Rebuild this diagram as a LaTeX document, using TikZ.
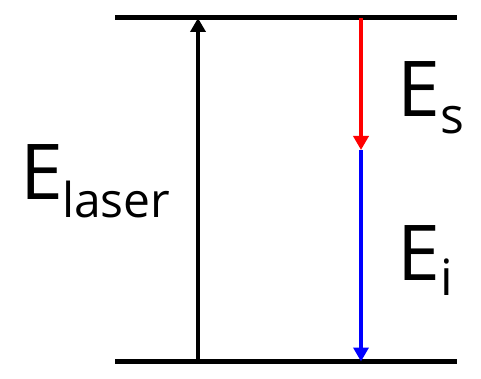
\documentclass[tikz,border=0pt]{standalone}
\usepackage{fontspec}
\setmainfont{Open Sans}
\usetikzlibrary{arrows.meta}

\begin{document}
\begin{tikzpicture}[x=1pt,y=-1pt,>={Triangle[width=15pt,length=14pt]},
  level/.style={line width=5pt},
  trans/.style={line width=4pt,->},
  lbl/.style={inner sep=0pt,anchor=base west,font=\fontsize{77}{77}\selectfont}]
\useasboundingbox (0,0) rectangle (481,379);
% energy levels
\coordinate (tl) at (115,18);
\coordinate (tr) at (457,18);
\coordinate (bl) at (115,361.5);
\coordinate (br) at (457,361.5);
\draw[level] (tl) -- (tr);
\draw[level] (bl) -- (br);
% transitions
\coordinate (pumpB) at (198,361.5);
\coordinate (pumpT) at (198,18);
\coordinate (sigT) at (361,18);
\coordinate (mid) at (361,150);
\coordinate (idlB) at (361,361.5);
\draw[trans] (pumpB) -- (pumpT);
\draw[trans,red] (sigT) -- (mid);
\draw[trans,blue] (mid) -- (idlB);
% labels
\node[lbl] (laser) at (20,200) {E\kern-1pt\raisebox{-18pt}{\fontsize{48}{48}\selectfont laser}};
\node[lbl] (sig) at (397,117) {E\raisebox{-17pt}{\fontsize{50}{50}\selectfont s}};
\node[lbl] (idl) at (397,280) {E\raisebox{-15pt}{\fontsize{50}{50}\selectfont i}};
\end{tikzpicture}
\end{document}
